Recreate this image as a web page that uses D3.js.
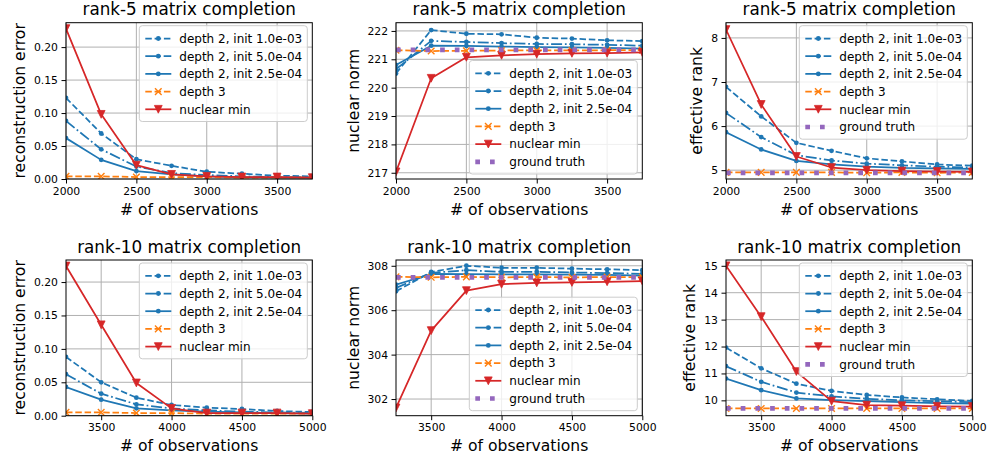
<!DOCTYPE html>
<html><head><meta charset="utf-8">
<script src="https://cdn.jsdelivr.net/npm/d3@7"></script>
<style>
html,body{margin:0;padding:0;background:#fff;}
svg text{font-family:"DejaVu Sans",sans-serif;fill:#000;}
</style></head>
<body><svg id="chart" width="989" height="459"></svg>
<script>
// ---------------- data ----------------
const obsRank5  = [2000, 2250, 2500, 2750, 3000, 3250, 3500, 3750];
const obsRank10 = [3250, 3500, 3750, 4000, 4250, 4500, 4750, 5000];
const seriesNames = ["depth 2, init 1.0e-03", "depth 2, init 5.0e-04", "depth 2, init 2.5e-04",
                     "depth 3", "nuclear min", "ground truth"];
const titles = ["rank-5 matrix completion", "rank-10 matrix completion"];
const yLabels = ["reconstruction error", "nuclear norm", "effective rank"];
const xLabel = "# of observations";

// rank-5 reconstruction error
const r5ErrD2a = [0.123, 0.069, 0.030, 0.020, 0.011, 0.008, 0.005, 0.004];
const r5ErrD2b = [0.088, 0.045, 0.019, 0.009, 0.006, 0.004, 0.003, 0.003];
const r5ErrD2c = [0.062, 0.029, 0.012, 0.007, 0.004, 0.003, 0.002, 0.002];
const r5ErrD3  = [0.004, 0.004, 0.003, 0.003, 0.003, 0.002, 0.002, 0.002];
const r5ErrNuc = [0.228, 0.098, 0.021, 0.007, 0.004, 0.003, 0.003, 0.002];
// rank-5 nuclear norm
const r5NormD2a = [220.50, 222.03, 221.90, 221.88, 221.76, 221.73, 221.67, 221.64];
const r5NormD2b = [220.65, 221.65, 221.61, 221.57, 221.54, 221.53, 221.51, 221.48];
const r5NormD2c = [220.80, 221.48, 221.47, 221.45, 221.43, 221.42, 221.40, 221.38];
const r5NormD3  = [221.32, 221.29, 221.30, 221.31, 221.31, 221.31, 221.32, 221.32];
const r5NormNuc = [217.03, 220.33, 221.07, 221.14, 221.18, 221.21, 221.22, 221.24];
const r5NormGT  = [221.33, 221.33, 221.33, 221.33, 221.33, 221.33, 221.33, 221.33];
// rank-5 effective rank
const r5RankD2a = [6.89, 6.22, 5.62, 5.44, 5.27, 5.20, 5.13, 5.10];
const r5RankD2b = [6.30, 5.75, 5.34, 5.22, 5.15, 5.11, 5.08, 5.06];
const r5RankD2c = [5.86, 5.47, 5.21, 5.13, 5.08, 5.05, 5.04, 5.03];
const r5RankD3  = [4.95, 4.95, 4.95, 4.95, 4.94, 4.95, 4.94, 4.95];
const r5RankNuc = [8.19, 6.49, 5.31, 5.06, 5.00, 4.98, 4.97, 4.96];
const r5RankGT  = [4.94, 4.94, 4.94, 4.94, 4.94, 4.94, 4.94, 4.94];
// rank-10 reconstruction error
const r10ErrD2a = [0.088, 0.050, 0.027, 0.016, 0.012, 0.010, 0.007, 0.0055];
const r10ErrD2b = [0.062, 0.033, 0.017, 0.011, 0.008, 0.006, 0.005, 0.004];
const r10ErrD2c = [0.043, 0.024, 0.011, 0.008, 0.006, 0.005, 0.004, 0.003];
const r10ErrD3  = [0.005, 0.005, 0.004, 0.004, 0.003, 0.003, 0.003, 0.003];
const r10ErrNuc = [0.224, 0.136, 0.049, 0.011, 0.004, 0.004, 0.004, 0.003];
// rank-10 nuclear norm
const r10NormD2a = [306.85, 307.72, 308.00, 307.91, 307.91, 307.87, 307.84, 307.80];
const r10NormD2b = [307.00, 307.68, 307.80, 307.73, 307.73, 307.70, 307.67, 307.64];
const r10NormD2c = [307.15, 307.63, 307.62, 307.61, 307.61, 307.60, 307.59, 307.56];
const r10NormD3  = [307.50, 307.48, 307.50, 307.48, 307.49, 307.48, 307.49, 307.49];
const r10NormNuc = [301.60, 305.08, 306.88, 307.17, 307.23, 307.25, 307.28, 307.31];
const r10NormGT  = [307.48, 307.48, 307.48, 307.48, 307.48, 307.48, 307.48, 307.48];
// rank-10 effective rank
const r10RankD2a = [11.96, 11.19, 10.62, 10.35, 10.20, 10.11, 10.04, 9.98];
const r10RankD2b = [11.27, 10.69, 10.29, 10.15, 10.06, 10.00, 9.97, 9.93];
const r10RankD2c = [10.81, 10.38, 10.07, 10.01, 9.97, 9.93, 9.90, 9.88];
const r10RankD3  = [9.70, 9.70, 9.70, 9.70, 9.70, 9.70, 9.70, 9.70];
const r10RankNuc = [15.00, 13.11, 11.07, 9.97, 9.82, 9.80, 9.78, 9.77];
const r10RankGT  = [9.70, 9.70, 9.70, 9.70, 9.70, 9.70, 9.70, 9.70];

// tick labels
const xTicksRank5  = [2000, 2500, 3000, 3500];
const xTicksRank10 = [3500, 4000, 4500, 5000];
const yTicksErr     = [0, 0.05, 0.10, 0.15, 0.20];
const yTicksNorm5   = [217, 218, 219, 220, 221, 222];
const yTicksRank5   = [5, 6, 7, 8];
const yTicksNorm10  = [302, 304, 306, 308];
const yTicksRank10  = [10, 11, 12, 13, 14, 15];

// ---------------- styles ----------------
const BLUE = "#1f77b4", ORANGE = "#ff7f0e", RED = "#d62728", PURPLE = "#9467bd";
const LW = 1.75;
const styles = [
  {color: BLUE,   dash: "6.5 2.8",              marker: "dot"},
  {color: BLUE,   dash: "11 2.8 1.75 2.8",      marker: "dot"},
  {color: BLUE,   dash: null,                   marker: "dot"},
  {color: ORANGE, dash: "6.5 2.8",              marker: "x"},
  {color: RED,    dash: null,                   marker: "v"},
  {color: PURPLE, dash: "4.7 10", width: 4.7,   marker: null}
];

const panels = [
  {row:0,col:0,x:obsRank5, xDom:[2000,3750], xTicks:xTicksRank5, yDom:[0,0.237], yTicks:yTicksErr, fmt:d3.format(".2f"),
   series:[r5ErrD2a,r5ErrD2b,r5ErrD2c,r5ErrD3,r5ErrNuc], legend:"ur"},
  {row:0,col:1,x:obsRank5, xDom:[2000,3750], xTicks:xTicksRank5, yDom:[216.78,222.29], yTicks:yTicksNorm5, fmt:d3.format("d"),
   series:[r5NormD2a,r5NormD2b,r5NormD2c,r5NormD3,r5NormNuc,r5NormGT], legend:"lr"},
  {row:0,col:2,x:obsRank5, xDom:[2000,3750], xTicks:xTicksRank5, yDom:[4.80,8.345], yTicks:yTicksRank5, fmt:d3.format("d"),
   series:[r5RankD2a,r5RankD2b,r5RankD2c,r5RankD3,r5RankNuc,r5RankGT], legend:"ur"},
  {row:1,col:0,x:obsRank10, xDom:[3250,5000], xTicks:xTicksRank10, yDom:[0,0.233], yTicks:yTicksErr, fmt:d3.format(".2f"),
   series:[r10ErrD2a,r10ErrD2b,r10ErrD2c,r10ErrD3,r10ErrNuc], legend:"ur"},
  {row:1,col:1,x:obsRank10, xDom:[3250,5000], xTicks:xTicksRank10, yDom:[301.25,308.26], yTicks:yTicksNorm10, fmt:d3.format("d"),
   series:[r10NormD2a,r10NormD2b,r10NormD2c,r10NormD3,r10NormNuc,r10NormGT], legend:"lr"},
  {row:1,col:2,x:obsRank10, xDom:[3250,5000], xTicks:xTicksRank10, yDom:[9.43,15.215], yTicks:yTicksRank10, fmt:d3.format("d"),
   series:[r10RankD2a,r10RankD2b,r10RankD2c,r10RankD3,r10RankNuc,r10RankGT], legend:"ur"}
];

// ---------------- layout ----------------
const axLeft = [66, 396, 726], axW = 246.3;
const axTop = [22.7, 260], axH = [156.3, 155.7];
const FS_TICK = 10.8, FS_LABEL = 15.6, FS_TITLE = 16.8, FS_LEG = 12;

const svg = d3.select("#chart");

function markerPath(type) {
  if (type === "x") { const s = 3.3; return `M${-s},${-s}L${s},${s}M${-s},${s}L${s},${-s}`; }
  if (type === "v") { const w = 3.9, h = 3.9; return `M${-w},${-h}L${w},${-h}L0,${h}Z`; }
  return null;
}
function drawMarker(g, type, color, x, y) {
  if (!type) return;
  if (type === "dot") {
    g.append("circle").attr("cx", x).attr("cy", y).attr("r", 2.4).attr("fill", color);
  } else if (type === "x") {
    g.append("path").attr("d", markerPath("x")).attr("transform", `translate(${x},${y})`)
      .attr("stroke", color).attr("stroke-width", 1.4).attr("fill", "none");
  } else {
    g.append("path").attr("d", markerPath("v")).attr("transform", `translate(${x},${y})`)
      .attr("fill", color).attr("stroke", color).attr("stroke-width", 0.8);
  }
}

panels.forEach((p, pi) => {
  const L = axLeft[p.col], T = axTop[p.row], Hh = axH[p.row], R = L + axW, B = T + Hh;
  const xs = d3.scaleLinear().domain(p.xDom).range([L, R]);
  const ys = d3.scaleLinear().domain(p.yDom).range([B, T]);
  const g = svg.append("g");

  // grid
  const grid = g.append("g").attr("stroke", "#b0b0b0").attr("stroke-width", 1);
  p.xTicks.forEach(t => grid.append("line").attr("x1", xs(t)).attr("x2", xs(t)).attr("y1", T).attr("y2", B));
  p.yTicks.forEach(t => grid.append("line").attr("x1", L).attr("x2", R).attr("y1", ys(t)).attr("y2", ys(t)));

  // clip
  const cid = "clip" + pi;
  svg.append("clipPath").attr("id", cid).append("rect").attr("x", L).attr("y", T).attr("width", axW).attr("height", Hh);
  const plot = g.append("g").attr("clip-path", `url(#${cid})`);

  p.series.forEach((vals, si) => {
    const st = styles[si];
    const line = d3.line().x((d, i) => xs(p.x[i])).y(d => ys(d));
    plot.append("path").attr("d", line(vals)).attr("fill", "none")
      .attr("stroke", st.color).attr("stroke-width", st.width || LW)
      .attr("stroke-dasharray", st.dash).attr("stroke-linejoin", "round");
    vals.forEach((v, i) => drawMarker(plot, st.marker, st.color, xs(p.x[i]), ys(v)));
  });

  // axes
  const xAxis = d3.axisBottom(xs).tickValues(p.xTicks).tickSize(4.5).tickPadding(3.5).tickFormat(d3.format("d"));
  const yAxis = d3.axisLeft(ys).tickValues(p.yTicks).tickSize(4.5).tickPadding(3.5).tickFormat(p.fmt);
  const gx = g.append("g").attr("transform", `translate(0,${B})`).call(xAxis);
  const gy = g.append("g").attr("transform", `translate(${L},0)`).call(yAxis);
  [gx, gy].forEach(a => {
    a.select(".domain").remove();
    a.selectAll("line").attr("stroke", "#000").attr("stroke-width", 1);
    a.selectAll("text").attr("font-size", FS_TICK).attr("font-family", "DejaVu Sans").attr("fill", "#000");
  });
  // spines
  g.append("rect").attr("x", L).attr("y", T).attr("width", axW).attr("height", Hh)
    .attr("fill", "none").attr("stroke", "#000").attr("stroke-width", 1);

  // tick label width for y label placement
  let maxW = 0;
  gy.selectAll("text").each(function(){ maxW = Math.max(maxW, this.getComputedTextLength()); });

  // labels
  g.append("text").attr("x", (L + R) / 2).attr("y", T - 7.3).attr("text-anchor", "middle")
    .attr("font-size", FS_TITLE).text(titles[p.row]);
  g.append("text").attr("x", (L + R) / 2).attr("y", B + 35.5).attr("text-anchor", "middle")
    .attr("font-size", FS_LABEL).text(xLabel);
  const lx = L - 8 - maxW - 4.8 - 4;
  g.append("text").attr("transform", `translate(${lx},${(T + B) / 2}) rotate(-90)`)
    .attr("text-anchor", "middle").attr("font-size", FS_LABEL).text(yLabels[p.col]);

  // legend
  const n = p.series.length;
  const lw = 168, lh = 25 + (n - 1) * 17.7;
  const lgx = R - 5 - lw;
  const lgy = p.legend === "ur" ? T + 3 : B - 5 - lh;
  const lg = g.append("g");
  lg.append("rect").attr("x", lgx).attr("y", lgy).attr("width", lw).attr("height", lh).attr("rx", 3)
    .attr("fill", "#fff").attr("fill-opacity", 0.8).attr("stroke", "#cccccc").attr("stroke-width", 1);
  for (let i = 0; i < n; i++) {
    const st = styles[i];
    const cy = lgy + 12.8 + i * 17.7;
    lg.append("line").attr("x1", lgx + 6).attr("x2", lgx + 32).attr("y1", cy).attr("y2", cy)
      .attr("stroke", st.color).attr("stroke-width", st.width || LW).attr("stroke-dasharray", st.dash);
    drawMarker(lg, st.marker, st.color, lgx + 19, cy);
    lg.append("text").attr("x", lgx + 40).attr("y", cy).attr("dy", "0.36em")
      .attr("font-size", FS_LEG).text(seriesNames[i]);
  }
});
</script></body></html>
